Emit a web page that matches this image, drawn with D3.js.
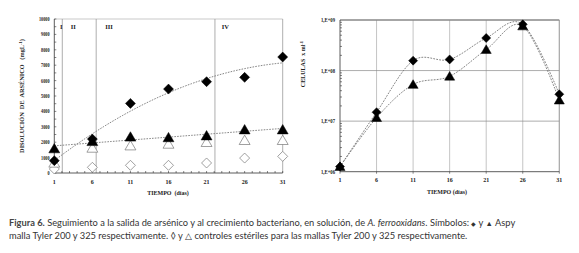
<!DOCTYPE html>
<html><head><meta charset="utf-8">
<script src="https://cdn.jsdelivr.net/npm/d3@7"></script>
<style>body{margin:0;background:#fff}svg{display:block}</style>
</head><body>
<svg id="c" width="579" height="253"></svg>
<script>
// ---- data ----
const days = [1, 6, 11, 16, 21, 26, 31];
const xTicks = [1, 6, 11, 16, 21, 26, 31];
const arsTicks = [0,1000,2000,3000,4000,5000,6000,7000,8000,9000,10000];
const ars200 = [800, 2200, 4520, 5450, 5930, 6210, 7530];      // filled diamond
const ars325 = [1580, 2050, 2340, 2300, 2420, 2810, 2810];     // filled triangle
const ctrl200 = [260, 370, 500, 500, 650, 970, 1080];          // open diamond
const ctrl325 = [650, 1620, 1770, 1880, 1990, 2120, 2120];     // open triangle
const phaseDays = [2.05, 6.5, 22.1];
const phaseLabels = ["I", "II", "III", "IV"];
const phaseLabelDays = [1.75, 3.15, 7.7, 23.0];
const cellTicks = [1e6, 1e7, 1e8, 1e9];
const cellTickLabels = ["1,E+06", "1,E+07", "1,E+08", "1,E+09"];
const cells200 = [1.26e6, 1.5e7, 1.57e8, 1.66e8, 4.4e8, 8.2e8, 3.4e7];
const cells325 = [1.26e6, 1.17e7, 5.3e7, 7.7e7, 2.6e8, 7.6e8, 2.6e7];

const svg = d3.select("#c");
const serif = "'Liberation Serif','DejaVu Serif',serif";

// least squares polynomial trend of given order
function polyFit(xs, ys, order) {
  const n = order + 1;
  const S = Array.from({length:n},()=>Array(n).fill(0)), B = Array(n).fill(0);
  xs.forEach((x,i)=>{const p=d3.range(n).map(k=>Math.pow(x,k));for(let r=0;r<n;r++){B[r]+=p[r]*ys[i];for(let c=0;c<n;c++)S[r][c]+=p[r]*p[c];}});
  for(let i=0;i<n;i++){for(let j=i+1;j<n;j++){const f=S[j][i]/S[i][i];for(let k=i;k<n;k++)S[j][k]-=f*S[i][k];B[j]-=f*B[i];}}
  const c=Array(n).fill(0);
  for(let i=n-1;i>=0;i--){let s=B[i];for(let k=i+1;k<n;k++)s-=S[i][k]*c[k];c[i]=s/S[i][i];}
  return x=>c.reduce((a,ck,k)=>a+ck*Math.pow(x,k),0);
}

// ---------- LEFT CHART ----------
const xL = d3.scaleLinear().domain([1,31]).range([54.3,282.7]);
const yL = d3.scaleLinear().domain([0,10000]).range([173,19]);
const gL = svg.append("g");

gL.append("line").attr("x1",xL(1)).attr("x2",xL(31)).attr("y1",yL(10000)).attr("y2",yL(10000)).attr("stroke","#bbb").attr("stroke-width",0.8);
gL.append("line").attr("x1",xL(31)).attr("x2",xL(31)).attr("y1",yL(10000)).attr("y2",yL(0)).attr("stroke","#999").attr("stroke-width",0.8);
gL.selectAll(".ph").data(phaseDays).join("line")
  .attr("x1",d=>xL(d)).attr("x2",d=>xL(d)).attr("y1",yL(10000)).attr("y2",yL(0))
  .attr("stroke","#999").attr("stroke-width",0.8);
gL.selectAll(".phl").data(phaseLabels).join("text")
  .attr("x",(d,i)=>xL(phaseLabelDays[i])).attr("y",29)
  .attr("font-family",serif).attr("font-weight","bold").attr("font-size",6.5).attr("fill","#222")
  .text(d=>d);

gL.append("line").attr("x1",xL(1)).attr("x2",xL(31)).attr("y1",yL(0)).attr("y2",yL(0)).attr("stroke","#333").attr("stroke-width",0.8);
gL.append("line").attr("x1",xL(1)).attr("x2",xL(1)).attr("y1",yL(0)).attr("y2",yL(10000)).attr("stroke","#333").attr("stroke-width",0.8);
gL.selectAll(".mxt").data(d3.range(1,32)).join("line")
  .attr("x1",d=>xL(d)).attr("x2",d=>xL(d)).attr("y1",yL(0)).attr("y2",yL(0)-2)
  .attr("stroke","#333").attr("stroke-width",0.6);
gL.selectAll(".myt").data(d3.range(0,10001,500)).join("line")
  .attr("x1",xL(1)).attr("x2",xL(1)+2).attr("y1",d=>yL(d)).attr("y2",d=>yL(d))
  .attr("stroke","#333").attr("stroke-width",0.6);
gL.selectAll(".xl").data(xTicks).join("text")
  .attr("x",d=>xL(d)).attr("y",184).attr("text-anchor","middle")
  .attr("font-family",serif).attr("font-weight","bold").attr("font-size",6).attr("fill","#222").text(d=>d);
gL.selectAll(".yl").data(arsTicks).join("text")
  .attr("x",49.5).attr("y",d=>yL(d)+2).attr("text-anchor","end")
  .attr("font-family",serif).attr("font-weight","bold").attr("font-size",6).attr("fill","#222")
  .attr("textLength",d=>String(d).length*2.1).attr("lengthAdjust","spacingAndGlyphs").text(d=>d);
gL.append("text").attr("x",168).attr("y",195).attr("text-anchor","middle")
  .attr("font-family",serif).attr("font-weight","bold").attr("font-size",6).attr("fill","#222")
  .attr("xml:space","preserve").text("TIEMPO  (días)");
gL.append("text").attr("transform","translate(24,96) rotate(-90)").attr("text-anchor","middle")
  .attr("font-family",serif).attr("font-weight","bold").attr("font-size",6.3).attr("fill","#222")
  .attr("xml:space","preserve")
  .html('DISOLUCIÓN  DE  ARSÉNICO   (mgL<tspan dy="-2" font-size="4.5">-1</tspan><tspan dy="2">)</tspan>');

// trend lines (order 2 for diamonds, order 1 for triangles)
[[ars200,2],[ars325,1]].forEach(([ys,ord])=>{
  const f = polyFit(days, ys, ord);
  gL.append("path").datum(d3.range(1,31.01,0.5))
    .attr("d", d3.line().x(d=>xL(d)).y(d=>yL(f(d))))
    .attr("fill","none").attr("stroke","#777").attr("stroke-width",0.9).attr("stroke-dasharray","1.6,1.2");
});

const diamond = (s)=>`M0,${-s}L${s},0L0,${s}L${-s},0Z`;
const tri = (s)=>`M0,${-s}L${s*1.05},${s*0.8}L${-s*1.05},${s*0.8}Z`;

function marks(g, xs, ys, xsc, ysc, pathStr, fill) {
  g.append("g").selectAll("path").data(ys).join("path")
    .attr("transform",(d,i)=>`translate(${xsc(xs[i])},${ysc(d)})`)
    .attr("d",pathStr)
    .attr("fill",fill ? "#000" : "#fff")
    .attr("stroke", fill ? "#000" : "#777").attr("stroke-width", fill?0.5:0.7);
}
marks(gL, days, ctrl200, xL, yL, diamond(5), false);
marks(gL, days, ctrl325, xL, yL, tri(5.2), false);
marks(gL, days, ars325, xL, yL, tri(5.2), true);
marks(gL, days, ars200, xL, yL, diamond(5), true);

// ---------- RIGHT CHART ----------
const xR = d3.scaleLinear().domain([1,31]).range([340,559.3]);
const yR = d3.scaleLog().domain([1e6,1e9]).range([171.7,20]);
const gR = svg.append("g");

gR.selectAll(".vg").data(xTicks.slice(1)).join("line")
  .attr("x1",d=>xR(d)).attr("x2",d=>xR(d)).attr("y1",yR(1e9)).attr("y2",yR(1e6))
  .attr("stroke","#aaa").attr("stroke-width",0.7);
gR.selectAll(".hg").data(cellTicks.slice(1,3)).join("line")
  .attr("x1",xR(1)).attr("x2",xR(31)).attr("y1",d=>yR(d)).attr("y2",d=>yR(d))
  .attr("stroke","#888").attr("stroke-width",0.7);
gR.append("line").attr("x1",xR(1)).attr("x2",xR(31)).attr("y1",yR(1e9)).attr("y2",yR(1e9)).attr("stroke","#888").attr("stroke-width",1.4);
gR.append("line").attr("x1",xR(31)).attr("x2",xR(31)).attr("y1",yR(1e9)).attr("y2",yR(1e6)).attr("stroke","#999").attr("stroke-width",0.8);
gR.append("line").attr("x1",xR(1)).attr("x2",xR(31)).attr("y1",yR(1e6)).attr("y2",yR(1e6)).attr("stroke","#333").attr("stroke-width",0.8);
gR.append("line").attr("x1",xR(1)).attr("x2",xR(1)).attr("y1",yR(1e6)).attr("y2",yR(1e9)).attr("stroke","#333").attr("stroke-width",0.8);
const minor = [];
[1e6,1e7,1e8].forEach(b=>{for(let k=2;k<=9;k++)minor.push(b*k);});
gR.selectAll(".mt").data(minor).join("line")
  .attr("x1",xR(1)).attr("x2",xR(1)+2).attr("y1",d=>yR(d)).attr("y2",d=>yR(d))
  .attr("stroke","#333").attr("stroke-width",0.6);
gR.selectAll(".xt").data(xTicks).join("line")
  .attr("x1",d=>xR(d)).attr("x2",d=>xR(d)).attr("y1",yR(1e6)).attr("y2",yR(1e6)+2)
  .attr("stroke","#333").attr("stroke-width",0.6);
gR.selectAll(".xl").data(xTicks).join("text")
  .attr("x",d=>xR(d)).attr("y",182).attr("text-anchor","middle")
  .attr("font-family",serif).attr("font-weight","bold").attr("font-size",6).attr("fill","#222").text(d=>d);
gR.selectAll(".yl").data(cellTicks).join("text")
  .attr("x",335).attr("y",d=>yR(d)+2).attr("text-anchor","end")
  .attr("font-family",serif).attr("font-weight","bold").attr("font-size",5.5).attr("fill","#222")
  .attr("textLength",14).attr("lengthAdjust","spacingAndGlyphs")
  .text((d,i)=>cellTickLabels[i]);
gR.append("text").attr("x",447).attr("y",194).attr("text-anchor","middle")
  .attr("font-family",serif).attr("font-weight","bold").attr("font-size",6).attr("fill","#222")
  .text("TIEMPO (días)");
gR.append("text").attr("transform","translate(305,64) rotate(-90)").attr("text-anchor","middle")
  .attr("font-family",serif).attr("font-weight","bold").attr("font-size",6).attr("fill","#222")
  .attr("xml:space","preserve")
  .html('CELULAS  x ml<tspan dy="-2" font-size="4.5">-1</tspan>');

svg.append("clipPath").attr("id","clipR").append("rect")
  .attr("x",xR(1)).attr("y",yR(1e9)).attr("width",xR(31)-xR(1)).attr("height",yR(1e6)-yR(1e9));
[cells200, cells325].forEach(ys=>{
  gR.append("path").datum(ys).attr("clip-path","url(#clipR)")
    .attr("d", d3.line().x((d,i)=>xR(days[i])).y(d=>yR(d)).curve(d3.curveCatmullRom.alpha(0)))
    .attr("fill","none").attr("stroke","#777").attr("stroke-width",0.9).attr("stroke-dasharray","1.8,1.2");
});
marks(gR, days, cells325, xR, yR, tri(4.8), true);
marks(gR, days, cells200, xR, yR, diamond(4.5), true);

// ---------- CAPTION ----------
const cap = svg.append("g").attr("font-family","Lato, 'Open Sans', sans-serif").attr("fill","#333");
const l1 = cap.append("text").attr("x",9).attr("y",226);
l1.append("tspan").attr("font-weight","bold").attr("fill","#444").text("Figura 6.");
l1.append("tspan").text(" Seguimiento a la salida de arsénico y al crecimiento bacteriano, en solución, de ");
l1.append("tspan").attr("font-style","italic").text("A. ferrooxidans");
l1.append("tspan").text(". Símbolos: ");
l1.append("tspan").attr("font-size","0.6em").attr("dy",-0.5).text("◆");
l1.append("tspan").attr("dy",0.5).text(" y ");
l1.append("tspan").attr("font-size","0.8em").text("▲");
l1.append("tspan").text(" Aspy");
const l2 = cap.append("text").attr("x",9).attr("y",239)
  .text("malla Tyler 200 y 325 respectivamente. ◊ y △ controles estériles para las mallas Tyler 200 y 325 respectivamente.");
let fs = 10;
l1.attr("font-size",fs);
const w = l1.node().getComputedTextLength();
fs = fs * 507 / w;
l1.attr("font-size",fs); l2.attr("font-size",fs);
</script>
</body></html>
